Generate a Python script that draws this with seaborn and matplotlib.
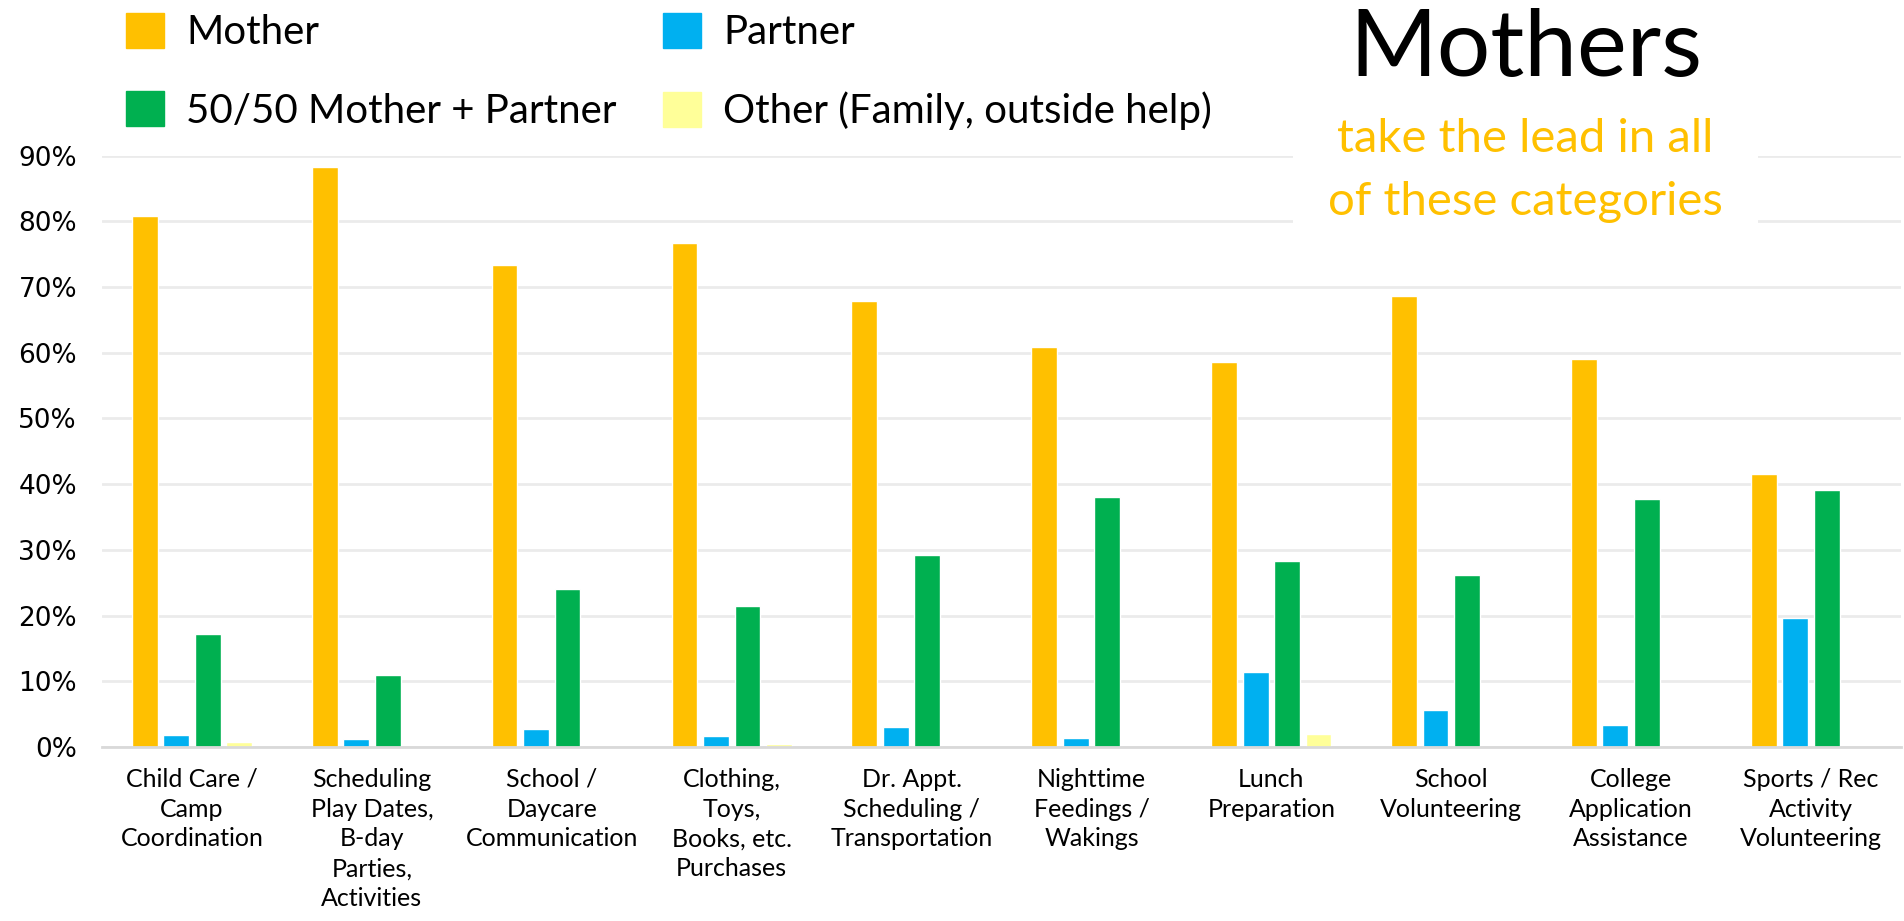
import matplotlib
matplotlib.use("Agg")
import matplotlib.pyplot as plt
import seaborn as sns
import pandas as pd
from matplotlib.patches import Patch, Rectangle
from matplotlib.ticker import PercentFormatter

# chart data (share of respondents)
categories = [
    "Child Care /\nCamp\nCoordination",
    "Scheduling\nPlay Dates,\nB-day\nParties,\nActivities",
    "School /\nDaycare\nCommunication",
    "Clothing,\nToys,\nBooks, etc.\nPurchases",
    "Dr. Appt.\nScheduling /\nTransportation",
    "Nighttime\nFeedings /\nWakings",
    "Lunch\nPreparation",
    "School\nVolunteering",
    "College\nApplication\nAssistance",
    "Sports / Rec\nActivity\nVolunteering",
]
mother = [0.808, 0.882, 0.733, 0.767, 0.678, 0.609, 0.586, 0.686, 0.591, 0.416]
partner = [0.018, 0.012, 0.028, 0.017, 0.031, 0.013, 0.114, 0.056, 0.033, 0.196]
fifty_fifty = [0.172, 0.109, 0.241, 0.214, 0.292, 0.380, 0.283, 0.261, 0.377, 0.391]
other = [0.007, 0.0, 0.0, 0.005, 0.0, 0.0, 0.020, 0.0, 0.0, 0.0]

series = ["Mother", "Partner", "50/50 Mother + Partner", "Other (Family, outside help)"]
colors = ["#FFC000", "#00B0F0", "#00B050", "#FFFF99"]

df = pd.DataFrame({
    "category": categories,
    series[0]: mother,
    series[1]: partner,
    series[2]: fifty_fifty,
    series[3]: other,
}).melt(id_vars="category", var_name="who", value_name="share")

sns.set_style("white")
plt.rcParams["font.family"] = ["Lato", "DejaVu Sans"]
plt.rcParams["text.color"] = "black"
plt.rcParams["xtick.color"] = "black"
plt.rcParams["ytick.color"] = "black"

fig = plt.figure(figsize=(19.04, 9.21), dpi=100)
ax = fig.add_axes([0.0536, 0.189, 0.9448, 0.642])

sns.barplot(data=df, x="category", y="share", hue="who", hue_order=series,
            palette=colors, saturation=1, width=0.7, gap=0.18, errorbar=None,
            legend=False, ax=ax)

ax.set_ylim(0, 0.9)
ax.set_yticks([i / 10 for i in range(10)])
ax.yaxis.set_major_formatter(PercentFormatter(1.0, decimals=0))
ax.grid(axis="y", color="#EBEBEB", linewidth=2)
ax.set_axisbelow(True)
for side in ["top", "right", "left"]:
    ax.spines[side].set_visible(False)
ax.spines["bottom"].set_color("#D9D9D9")
ax.spines["bottom"].set_linewidth(2)
ax.set_xlabel("")
ax.set_ylabel("")
ax.tick_params(axis="x", length=0, pad=15, labelsize=18, labelcolor="black")
ax.tick_params(axis="y", length=0, pad=18, labelcolor="black")
for lbl in ax.get_yticklabels():
    lbl.set_fontfamily("DejaVu Sans")
    lbl.set_fontsize(19)
for lbl in ax.get_xticklabels():
    lbl.set_verticalalignment("top")
    lbl.set_linespacing(1.36)

# legend: two rows, Mother/Partner on top
handles = [Patch(color=c, label=s) for c, s in zip(colors, series)]
order = [0, 2, 1, 3]
fig.legend(handles=[handles[i] for i in order], loc="upper left",
           bbox_to_anchor=(0.066, 0.986), ncol=2, frameon=False,
           fontsize=29, handlelength=0.95, handleheight=0.95,
           handletextpad=0.55, labelspacing=1.0, columnspacing=1.15,
           borderpad=0, borderaxespad=0, labelcolor="black")

# headline and the white panel behind the subtitle
fig.text(0.8015, 0.918, "Mothers", ha="center", va="baseline", fontsize=68,
         color="black")
fig.patches.append(Rectangle((1293 / 1904, 1 - 228 / 921), 465 / 1904, 118 / 921,
                             transform=fig.transFigure, facecolor="white",
                             edgecolor="none", zorder=2))
fig.text(0.801, 1 - 152 / 921, "take the lead in all", ha="center",
         va="baseline", fontsize=34, color="#FFC000", zorder=3)
fig.text(0.801, 1 - 215 / 921, "of these categories", ha="center",
         va="baseline", fontsize=34, color="#FFC000", zorder=3)

fig.savefig("out.png", dpi=100)
